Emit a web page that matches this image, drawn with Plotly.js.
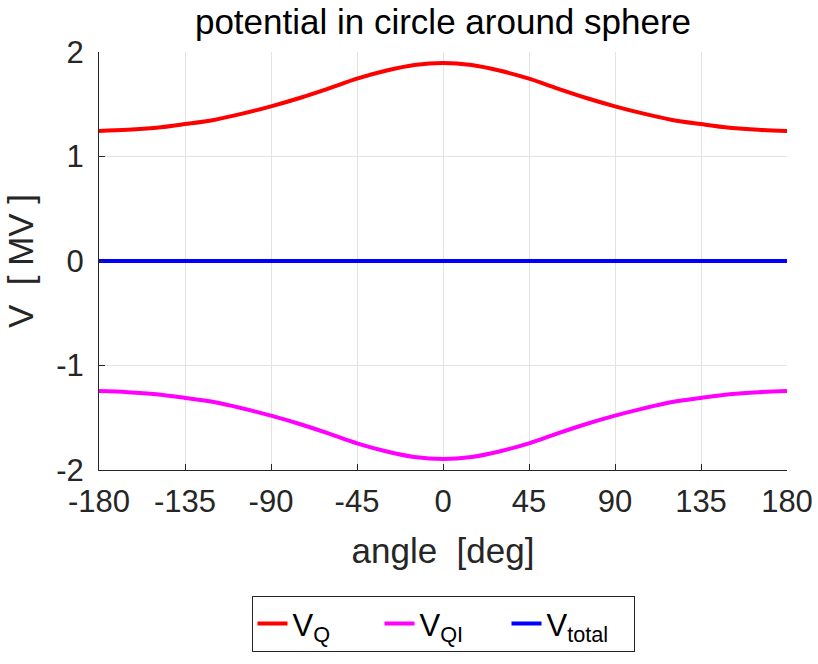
<!DOCTYPE html>
<html>
<head>
<meta charset="utf-8">
<script src="https://cdn.plot.ly/plotly-3.0.1.min.js"></script>
<style>html,body{margin:0;padding:0;background:#fff;}#chart{width:818px;height:664px;}</style>
</head>
<body>
<div id="chart"></div>
<script>
// angle in degrees
const angle = [-180,-165,-150,-135,-120,-105,-90,-75,-60,-45,-30,-15,0,15,30,45,60,75,90,105,120,135,150,165,180];
// potential of charge Q [MV]
const vQ = [1.245,1.255,1.275,1.31,1.35,1.41,1.48,1.56,1.65,1.745,1.82,1.875,1.895,1.875,1.82,1.745,1.65,1.56,1.48,1.41,1.35,1.31,1.275,1.255,1.245];
// potential of image charge QI [MV]
const vQI = [-1.245,-1.255,-1.275,-1.31,-1.35,-1.41,-1.48,-1.56,-1.65,-1.745,-1.82,-1.875,-1.895,-1.875,-1.82,-1.745,-1.65,-1.56,-1.48,-1.41,-1.35,-1.31,-1.275,-1.255,-1.245];
// total potential [MV]
const vTotal = [0,0,0,0,0,0,0,0,0,0,0,0,0,0,0,0,0,0,0,0,0,0,0,0,0];
const xTicks = [-180,-135,-90,-45,0,45,90,135,180];
const yTicks = [-2,-1,0,1,2];
const names = ['V<sub>Q</sub>','V<sub>QI</sub>','V<sub>total</sub>'];

const font = 'Liberation Sans, Arial, Helvetica, sans-serif';
const ink = '#262626';

const traces = [
  {x: angle, y: vQ, name: names[0], mode: 'lines', line: {color: '#ff0000', width: 4, shape: 'spline'}},
  {x: angle, y: vQI, name: names[1], mode: 'lines', line: {color: '#ff00ff', width: 4, shape: 'spline'}},
  {x: angle, y: vTotal, name: names[2], mode: 'lines', line: {color: '#0000ff', width: 4}}
];

const layout = {
  width: 818, height: 664,
  margin: {l: 99, r: 31, t: 52, b: 194},
  paper_bgcolor: '#ffffff', plot_bgcolor: '#ffffff',
  font: {family: font, color: ink, size: 32},
  title: {text: 'potential in circle around sphere', font: {size: 35, color: '#000'}, x: 0.5, xref: 'paper', xanchor: 'center', y: 1 - 9/664, yref: 'container', yanchor: 'top'},
  xaxis: {
    range: [-180, 180], tickvals: xTicks, ticktext: xTicks.map(String),
    showline: true, linecolor: ink, linewidth: 1, ticks: 'inside', ticklen: 6, tickcolor: ink,
    showgrid: true, gridcolor: '#e3e3e3', zeroline: false, mirror: false,
    tickfont: {size: 31, color: ink}, ticklabelstandoff: 4,
    title: {text: 'angle  [deg]', font: {size: 35, color: ink}, standoff: 20}
  },
  yaxis: {
    range: [-2, 2], tickvals: yTicks, ticktext: yTicks.map(String),
    showline: true, linecolor: ink, linewidth: 1, ticks: 'inside', ticklen: 6, tickcolor: ink,
    showgrid: true, gridcolor: '#e3e3e3', zeroline: false, mirror: false,
    tickfont: {size: 31, color: ink}, ticklabelstandoff: 8,
    title: {text: 'V  [ MV ]', font: {size: 35, color: ink}, standoff: 11}
  },
  legend: {
    orientation: 'h', x: 0.5, xanchor: 'center', y: -0.301, yanchor: 'top',
    bordercolor: ink, borderwidth: 1, bgcolor: '#ffffff',
    entrywidth: 82, entrywidthmode: 'pixels',
    font: {size: 31, color: '#000'}
  },
  showlegend: true
};

Plotly.newPlot('chart', traces, layout, {displayModeBar: false, staticPlot: true});
</script>
</body>
</html>
